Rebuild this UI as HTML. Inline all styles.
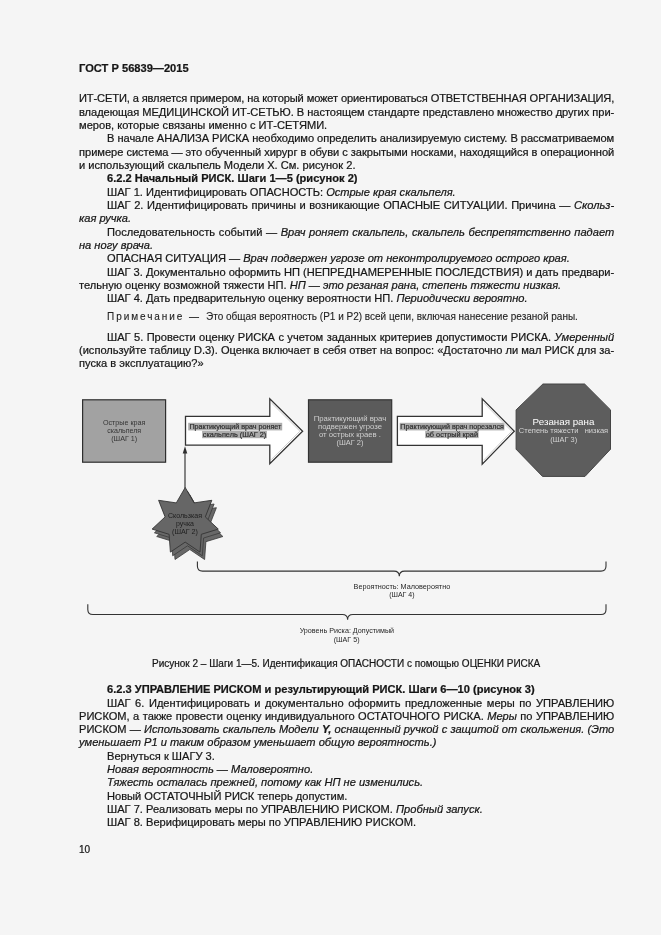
<!DOCTYPE html>
<html lang="ru"><head><meta charset="utf-8"><title>ГОСТ Р 56839—2015</title>
<style>
html,body{margin:0;padding:0;}
body{width:661px;height:935px;background:#f5f5f5;position:relative;overflow:hidden;font-family:"Liberation Sans",sans-serif;color:#161616;-webkit-text-stroke:0.22px #161616;}
.l{position:absolute;white-space:pre;will-change:transform;}
i{font-style:italic;} b{font-weight:bold;}
svg{position:absolute;left:0;top:0;will-change:transform;}
svg text{font-family:"Liberation Sans",sans-serif;}
</style></head>
<body>
<svg width="661" height="935" viewBox="0 0 661 935">
<rect x="82.6" y="399.8" width="83" height="62.4" fill="#a2a2a2" stroke="#2e2e2e" stroke-width="1.2"/>
<text x="124.2" y="424.9" font-size="7.2" fill="#353535" text-anchor="middle" font-weight="normal" textLength="42.6" lengthAdjust="spacingAndGlyphs">Острые края</text>
<text x="124.2" y="432.9" font-size="7.2" fill="#353535" text-anchor="middle" font-weight="normal" textLength="34.0" lengthAdjust="spacingAndGlyphs">скальпеля</text>
<text x="124.2" y="440.9" font-size="7.2" fill="#353535" text-anchor="middle" font-weight="normal" textLength="26.0" lengthAdjust="spacingAndGlyphs">(ШАГ 1)</text>
<line x1="185.0" y1="488" x2="185.0" y2="452" stroke="#3a3a3a" stroke-width="1.2"/>
<polygon points="185.0,446.2 187.3,453.6 182.7,453.6" fill="#2e2e2e"/>
<polygon points="185.5,416.3 269.8,416.3 269.8,398.8 302.6,431.2 269.8,463.6 269.8,445.2 185.5,445.2" fill="#ffffff" stroke="#333" stroke-width="1.3" stroke-linejoin="miter"/>
<rect x="188.2" y="422.8" width="94" height="7.6" fill="#adadad"/>
<rect x="202.1" y="430.9" width="64.8" height="7.3" fill="#adadad"/>
<text x="235.4" y="429.0" font-size="7.2" fill="#2a2a2a" text-anchor="middle" font-weight="normal" textLength="92.0" lengthAdjust="spacingAndGlyphs" stroke="#333" stroke-width="0.2">Практикующий врач роняет</text>
<text x="234.5" y="437.0" font-size="7.2" fill="#2a2a2a" text-anchor="middle" font-weight="normal" textLength="63.5" lengthAdjust="spacingAndGlyphs" stroke="#333" stroke-width="0.2">скальпель (ШАГ 2)</text>
<polyline points="271.4,402.9 299.9,431.2 271.4,459.5" fill="none" stroke="#cfcfcf" stroke-width="1"/>
<rect x="308.5" y="399.8" width="83.2" height="62.4" fill="#5b5b5b" stroke="#333" stroke-width="1.2"/>
<text x="350.0" y="420.8" font-size="7.6" fill="#cfcfcf" text-anchor="middle" font-weight="normal" textLength="72.6" lengthAdjust="spacingAndGlyphs">Практикующий врач</text>
<text x="350.0" y="429.0" font-size="7.6" fill="#cfcfcf" text-anchor="middle" font-weight="normal" textLength="64.0" lengthAdjust="spacingAndGlyphs">подвержен угрозе</text>
<text x="350.0" y="437.0" font-size="7.6" fill="#cfcfcf" text-anchor="middle" font-weight="normal" textLength="62.0" lengthAdjust="spacingAndGlyphs">от острых краев .</text>
<text x="350.0" y="445.0" font-size="7.6" fill="#cfcfcf" text-anchor="middle" font-weight="normal" textLength="27.0" lengthAdjust="spacingAndGlyphs">(ШАГ 2)</text>
<polygon points="397.4,416.4 482.2,416.4 482.2,398.9 514.3,431.2 482.2,464.1 482.2,445.4 397.4,445.4" fill="#ffffff" stroke="#333" stroke-width="1.3" stroke-linejoin="miter"/>
<rect x="399.7" y="422.8" width="104.7" height="7.6" fill="#adadad"/>
<rect x="425.2" y="430.9" width="53.4" height="7.2" fill="#adadad"/>
<text x="452.1" y="429.0" font-size="7.2" fill="#2a2a2a" text-anchor="middle" font-weight="normal" textLength="103.5" lengthAdjust="spacingAndGlyphs" stroke="#333" stroke-width="0.2">Практикующий врач порезался</text>
<text x="451.9" y="437.0" font-size="7.2" fill="#2a2a2a" text-anchor="middle" font-weight="normal" textLength="52.2" lengthAdjust="spacingAndGlyphs" stroke="#333" stroke-width="0.2">об острый край</text>
<polyline points="483.8,403 511.7,431.2 483.8,460" fill="none" stroke="#cfcfcf" stroke-width="1"/>
<polygon points="542.9,384.0 584.6,384.0 610.5,409.9 610.5,449.2 585,476.4 542.5,476.4 516.1,449.2 516.1,409.9" fill="#5d5d5d" stroke="#444" stroke-width="1"/>
<text x="563.5" y="424.8" font-size="9.8" fill="#ffffff" text-anchor="middle" font-weight="normal" textLength="61.8" lengthAdjust="spacingAndGlyphs" style="-webkit-text-stroke:0">Резаная рана</text>
<text x="563.5" y="433.3" font-size="7.2" fill="#d4d4d4" text-anchor="middle" font-weight="normal" textLength="89.3" lengthAdjust="spacingAndGlyphs" xml:space="preserve">Степень тяжести   низкая</text>
<text x="563.7" y="441.5" font-size="7.2" fill="#d4d4d4" text-anchor="middle" font-weight="normal" textLength="26.8" lengthAdjust="spacingAndGlyphs">(ШАГ 3)</text>
<polygon points="189.8,494.9 198.7,510.3 216.4,507.7 209.9,524.3 222.9,536.5 205.9,541.7 204.6,559.5 189.8,549.5 175.0,559.5 173.7,541.7 156.7,536.5 169.7,524.3 163.2,507.7 180.9,510.3" fill="#686868" stroke="#3a3a3a" stroke-width="0.8"/>
<polygon points="187.5,491.2 196.4,506.6 214.1,504.0 207.6,520.6 220.6,532.8 203.6,538.0 202.3,555.8 187.5,545.8 172.7,555.8 171.4,538.0 154.4,532.8 167.4,520.6 160.9,504.0 178.6,506.6" fill="#686868" stroke="#3a3a3a" stroke-width="0.8"/>
<polygon points="185.2,487.5 194.1,502.9 211.8,500.3 205.3,516.9 218.3,529.1 201.3,534.3 200.0,552.1 185.2,542.1 170.4,552.1 169.1,534.3 152.1,529.1 165.1,516.9 158.6,500.3 176.3,502.9" fill="#666" stroke="#333" stroke-width="0.9"/>
<text x="185.0" y="518.0" font-size="7.0" fill="#202020" text-anchor="middle" font-weight="normal" textLength="34.0" lengthAdjust="spacingAndGlyphs">Скользкая</text>
<text x="185.0" y="526.1" font-size="7.0" fill="#202020" text-anchor="middle" font-weight="normal" textLength="18.0" lengthAdjust="spacingAndGlyphs">ручка</text>
<text x="185.0" y="534.2" font-size="7.0" fill="#202020" text-anchor="middle" font-weight="normal" textLength="26.0" lengthAdjust="spacingAndGlyphs">(ШАГ 2)</text>
<path d="M197.4,561.5 V566 Q197.4,571.1 202.5,571.1 H394 Q399.3,571.1 399.3,576.3 Q399.3,571.1 404.6,571.1 H601 Q606,571.1 606,566 V561.5" fill="none" stroke="#333" stroke-width="1.1"/>
<text x="401.9" y="588.9" font-size="7.2" fill="#262626" text-anchor="middle" font-weight="normal" textLength="96.6" lengthAdjust="spacingAndGlyphs">Вероятность: Маловероятно</text>
<text x="401.9" y="596.7" font-size="7.2" fill="#262626" text-anchor="middle" font-weight="normal" textLength="25.4" lengthAdjust="spacingAndGlyphs">(ШАГ 4)</text>
<path d="M87.8,604.2 V609.4 Q87.8,614.5 93,614.5 H342.3 Q347.6,614.5 347.6,619.7 Q347.6,614.5 352.9,614.5 H601 Q606,614.5 606,609.4 V604.2" fill="none" stroke="#333" stroke-width="1.1"/>
<text x="346.9" y="633.1" font-size="7.2" fill="#262626" text-anchor="middle" font-weight="normal" textLength="94.5" lengthAdjust="spacingAndGlyphs">Уровень Риска: Допустимый</text>
<text x="346.6" y="641.5" font-size="7.2" fill="#262626" text-anchor="middle" font-weight="normal" textLength="25.9" lengthAdjust="spacingAndGlyphs">(ШАГ 5)</text>
</svg>
<div class="l" id="l0" style="left:78.8px;top:61.79px;font-size:11.1px;line-height:13.32px;word-spacing:0.058px;"><b>ГОСТ Р 56839—2015</b></div>
<div class="l" id="l1" style="left:78.8px;top:92.29px;font-size:11.1px;line-height:13.32px;letter-spacing:-0.123px;">ИТ-СЕТИ, а является примером, на который может ориентироваться ОТВЕТСТВЕННАЯ ОРГАНИЗАЦИЯ,</div>
<div class="l" id="l2" style="left:78.8px;top:105.63px;font-size:11.1px;line-height:13.32px;letter-spacing:-0.045px;">владеющая МЕДИЦИНСКОЙ ИТ-СЕТЬЮ. В настоящем стандарте представлено множество других при-</div>
<div class="l" id="l3" style="left:78.8px;top:118.97px;font-size:11.1px;line-height:13.32px;">меров, которые связаны именно с ИТ-СЕТЯМИ.</div>
<div class="l" id="l4" style="left:106.8px;top:132.31px;font-size:11.1px;line-height:13.32px;letter-spacing:-0.039px;">В начале АНАЛИЗА РИСКА необходимо определить анализируемую систему. В рассматриваемом</div>
<div class="l" id="l5" style="left:78.8px;top:145.65px;font-size:11.1px;line-height:13.32px;letter-spacing:-0.026px;">примере система — это обученный хирург в обуви с закрытыми носками, находящийся в операционной</div>
<div class="l" id="l6" style="left:78.8px;top:158.99px;font-size:11.1px;line-height:13.32px;">и использующий скальпель Модели Х. См. рисунок 2.</div>
<div class="l" id="l7" style="left:106.8px;top:172.33px;font-size:11.1px;line-height:13.32px;"><b>6.2.2 Начальный РИСК. Шаги 1—5 (рисунок 2)</b></div>
<div class="l" id="l8" style="left:106.8px;top:185.67px;font-size:11.1px;line-height:13.32px;">ШАГ 1. Идентифицировать ОПАСНОСТЬ: <i>Острые края скальпеля.</i></div>
<div class="l" id="l9" style="left:106.8px;top:199.01px;font-size:11.1px;line-height:13.32px;word-spacing:0.526px;">ШАГ 2. Идентифицировать причины и возникающие ОПАСНЫЕ СИТУАЦИИ. Причина — <i>Скольз-</i></div>
<div class="l" id="l10" style="left:78.8px;top:212.35px;font-size:11.1px;line-height:13.32px;"><i>кая ручка.</i></div>
<div class="l" id="l11" style="left:106.8px;top:225.69px;font-size:11.1px;line-height:13.32px;word-spacing:0.519px;">Последовательность событий — <i>Врач роняет скальпель, скальпель беспрепятственно падает</i></div>
<div class="l" id="l12" style="left:78.8px;top:239.03px;font-size:11.1px;line-height:13.32px;"><i>на ногу врача.</i></div>
<div class="l" id="l13" style="left:106.8px;top:252.37px;font-size:11.1px;line-height:13.32px;">ОПАСНАЯ СИТУАЦИЯ — <i>Врач подвержен угрозе от неконтролируемого острого края.</i></div>
<div class="l" id="l14" style="left:106.8px;top:265.71px;font-size:11.1px;line-height:13.32px;letter-spacing:-0.012px;">ШАГ 3. Документально оформить НП (НЕПРЕДНАМЕРЕННЫЕ ПОСЛЕДСТВИЯ) и дать предвари-</div>
<div class="l" id="l15" style="left:78.8px;top:279.05px;font-size:11.1px;line-height:13.32px;">тельную оценку возможной тяжести НП. <i>НП — это резаная рана, степень тяжести низкая.</i></div>
<div class="l" id="l16" style="left:106.8px;top:292.39px;font-size:11.1px;line-height:13.32px;">ШАГ 4. Дать предварительную оценку вероятности НП. <i>Периодически вероятно.</i></div>
<div class="l" id="l17" style="left:106.6px;top:310.84px;font-size:10.0px;line-height:12.0px;-webkit-text-stroke:0.1px #222;color:#222;letter-spacing:1.945px;">Примечание</div>
<div class="l" id="l18" style="left:188.9px;top:310.84px;font-size:10.0px;line-height:12.0px;-webkit-text-stroke:0.1px #222;color:#222;">—</div>
<div class="l" id="l19" style="left:206.3px;top:310.84px;font-size:10.0px;line-height:12.0px;-webkit-text-stroke:0.1px #222;color:#222;word-spacing:0.002px;">Это общая вероятность (Р1 и Р2) всей цепи, включая нанесение резаной раны.</div>
<div class="l" id="l20" style="left:106.8px;top:330.59px;font-size:11.1px;line-height:13.32px;word-spacing:0.325px;">ШАГ 5. Провести оценку РИСКА с учетом заданных критериев допустимости РИСКА. <i>Умеренный</i></div>
<div class="l" id="l21" style="left:78.8px;top:343.89px;font-size:11.1px;line-height:13.32px;letter-spacing:-0.013px;">(используйте таблицу D.3). Оценка включает в себя ответ на вопрос: «Достаточно ли мал РИСК для за-</div>
<div class="l" id="l22" style="left:78.8px;top:357.19px;font-size:11.1px;line-height:13.32px;">пуска в эксплуатацию?»</div>
<div class="l" id="l23" style="left:152.3px;top:658.13px;font-size:10.0px;line-height:12.0px;">Рисунок 2 – Шаги 1—5. Идентификация ОПАСНОСТИ с помощью ОЦЕНКИ РИСКА</div>
<div class="l" id="l24" style="left:106.8px;top:683.19px;font-size:11.1px;line-height:13.32px;"><b>6.2.3 УПРАВЛЕНИЕ РИСКОМ и результирующий РИСК. Шаги 6—10 (рисунок 3)</b></div>
<div class="l" id="l25" style="left:106.8px;top:696.50px;font-size:11.1px;line-height:13.32px;word-spacing:1.458px;">ШАГ 6. Идентифицировать и документально оформить предложенные меры по УПРАВЛЕНИЮ</div>
<div class="l" id="l26" style="left:78.8px;top:709.81px;font-size:11.1px;line-height:13.32px;word-spacing:0.354px;">РИСКОМ, а также провести оценку индивидуального ОСТАТОЧНОГО РИСКА. <i>Меры</i> по УПРАВЛЕНИЮ</div>
<div class="l" id="l27" style="left:78.8px;top:723.12px;font-size:11.1px;line-height:13.32px;word-spacing:0.095px;">РИСКОМ — <i>Использовать скальпель Модели </i><b><i>Y,</i></b><i> оснащенный ручкой с защитой от скольжения. (Это</i></div>
<div class="l" id="l28" style="left:78.8px;top:736.43px;font-size:11.1px;line-height:13.32px;"><i>уменьшает Р1 и таким образом уменьшает общую вероятность.)</i></div>
<div class="l" id="l29" style="left:106.8px;top:749.74px;font-size:11.1px;line-height:13.32px;">Вернуться к ШАГУ 3.</div>
<div class="l" id="l30" style="left:106.8px;top:763.05px;font-size:11.1px;line-height:13.32px;"><i>Новая вероятность — Маловероятно.</i></div>
<div class="l" id="l31" style="left:106.8px;top:776.36px;font-size:11.1px;line-height:13.32px;"><i>Тяжесть осталась прежней, потому как НП не изменились.</i></div>
<div class="l" id="l32" style="left:106.8px;top:789.67px;font-size:11.1px;line-height:13.32px;">Новый ОСТАТОЧНЫЙ РИСК теперь допустим.</div>
<div class="l" id="l33" style="left:106.8px;top:802.98px;font-size:11.1px;line-height:13.32px;">ШАГ 7. Реализовать меры по УПРАВЛЕНИЮ РИСКОМ. <i>Пробный запуск.</i></div>
<div class="l" id="l34" style="left:106.8px;top:816.29px;font-size:11.1px;line-height:13.32px;">ШАГ 8. Верифицировать меры по УПРАВЛЕНИЮ РИСКОМ.</div>
<div class="l" id="l35" style="left:79.4px;top:844.43px;font-size:10.0px;line-height:12.0px;">10</div>
</body></html>
